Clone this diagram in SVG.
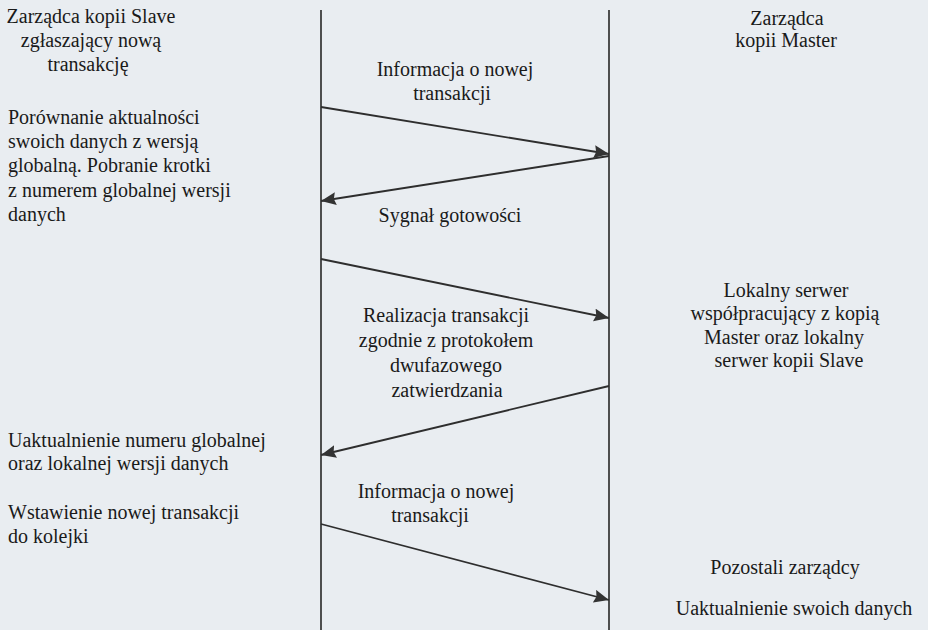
<svg xmlns="http://www.w3.org/2000/svg" width="928" height="630" viewBox="0 0 928 630">
  <style>
    .t { font-family: "Liberation Serif", "Times New Roman", serif; font-size: 20px; fill: #1a1a1a; }
    .c { text-anchor: middle; }
    .life { stroke: #262626; stroke-width: 1.6; fill: none; }
    .msg { stroke: #2e2e2e; stroke-width: 1.8; fill: none; marker-end: url(#head); }
  </style>
  <defs>
    <marker id="head" markerUnits="userSpaceOnUse" markerWidth="16" markerHeight="14" refX="15" refY="6.5" orient="auto">
      <path d="M0,0 L15,6.5 L0,13 L2,6.5 z" fill="#333333"/>
    </marker>
  </defs>

  <rect width="928" height="630" fill="#e9edf1"/>

  <!-- Slave copy manager: lifeline and its steps -->
  <g id="slave">
    <line class="life" x1="321" y1="10" x2="321" y2="630"/>
    <text class="t c" x="91" y="23">Zarządca kopii Slave</text>
    <text class="t c" x="91" y="47">zgłaszający nową</text>
    <text class="t c" x="88" y="71">transakcję</text>
    <text class="t" x="8" y="124">Porównanie aktualności</text>
    <text class="t" x="8" y="148">swoich danych z wersją</text>
    <text class="t" x="8" y="172">globalną. Pobranie krotki</text>
    <text class="t" x="8" y="197">z numerem globalnej wersji</text>
    <text class="t" x="8" y="221">danych</text>
    <text class="t" x="8" y="447">Uaktualnienie numeru globalnej</text>
    <text class="t" x="8" y="470">oraz lokalnej wersji danych</text>
    <text class="t" x="8" y="519">Wstawienie nowej transakcji</text>
    <text class="t" x="8" y="543">do kolejki</text>
  </g>

  <!-- Master copy manager: lifeline and its steps -->
  <g id="master">
    <line class="life" x1="609" y1="10" x2="609" y2="630"/>
    <text class="t c" x="787" y="25">Zarządca</text>
    <text class="t c" x="786" y="47">kopii Master</text>
    <text class="t c" x="786" y="297">Lokalny serwer</text>
    <text class="t c" x="785" y="320">współpracujący z kopią</text>
    <text class="t c" x="784" y="344">Master oraz lokalny</text>
    <text class="t c" x="789" y="367">serwer kopii Slave</text>
  </g>

  <!-- Other managers -->
  <g id="others">
    <text class="t c" x="785" y="574">Pozostali zarządcy</text>
    <text class="t c" x="794" y="615">Uaktualnienie swoich danych</text>
  </g>

  <!-- Messages between the lifelines -->
  <g id="connectors">
    <line class="msg" x1="321" y1="107" x2="609" y2="154"/>
    <line class="msg" x1="609" y1="156" x2="321" y2="201"/>
    <line class="msg" x1="321" y1="259" x2="609" y2="318"/>
    <line class="msg" x1="609" y1="386" x2="321" y2="455"/>
    <line class="msg" x1="321" y1="524" x2="609" y2="600"/>
  </g>

  <!-- Message labels -->
  <g id="labels">
    <text class="t c" x="455" y="76">Informacja o nowej</text>
    <text class="t c" x="452" y="100">transakcji</text>
    <text class="t c" x="450" y="222">Sygnał gotowości</text>
    <text class="t c" x="446" y="322">Realizacja transakcji</text>
    <text class="t c" x="446" y="347">zgodnie z protokołem</text>
    <text class="t c" x="446" y="372">dwufazowego</text>
    <text class="t c" x="447" y="397">zatwierdzania</text>
    <text class="t c" x="436" y="498">Informacja o nowej</text>
    <text class="t c" x="430" y="522">transakcji</text>
  </g>
</svg>
